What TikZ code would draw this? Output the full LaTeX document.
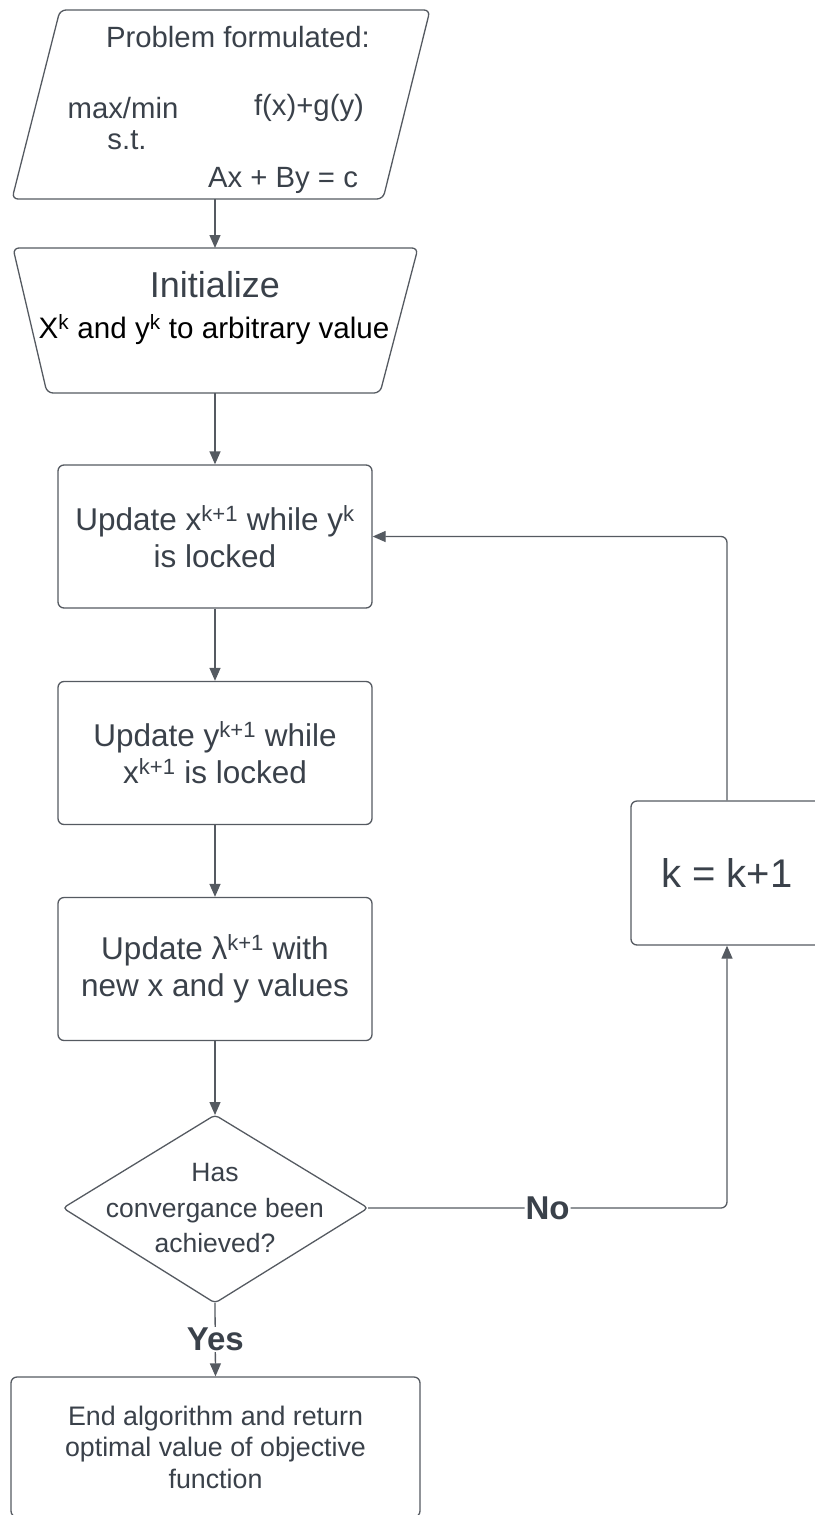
\documentclass[tikz,border=0pt]{standalone}
\usepackage{fontspec}
\setmainfont{Liberation Sans}
\usetikzlibrary{arrows.meta}
\definecolor{ln}{HTML}{555A61}
\definecolor{tx}{HTML}{3A414A}
\tikzset{
  shp/.style={draw=ln, line width=1.3pt, rounded corners=6pt},
  box/.style={shp, fill=white, minimum width=314pt, minimum height=143pt, inner sep=0pt, align=center, text=tx, font=\fontsize{31.5}{37}\selectfont},
  arr/.style={draw=ln, line width=1.3pt, -{Triangle[width=11pt,length=13pt]}},
  con/.style={draw=ln, line width=1.3pt},
  lbl/.style={text=tx, inner sep=0pt, align=center},
  bold/.style={lbl, fill=white, inner sep=1pt, font=\fontsize{33}{38}\selectfont\bfseries},
  ptx/.style={lbl, font=\fontsize{29.3}{34}\selectfont}
}
\begin{document}
\begin{tikzpicture}[x=1pt,y=-1pt]
\useasboundingbox (0,0) rectangle (814,1515);
% parallelogram
\coordinate (pB) at (215,199);
\draw[shp] (60,10) -- (430,10) -- (383,199) -- (12,199) -- cycle;
\node[ptx] (p1) at (238,37) {Problem formulated:};
\node[ptx] (p2) at (123,108) {max/min};
\node[ptx] (p3) at (309,108) {f(x)+g(y)};
\node[ptx] (p4) at (127,140) {s.t.};
\node[ptx] (p5) at (283,180) {Ax + By = c};
% trapezoid
\coordinate (tT) at (215,248);
\coordinate (tB) at (215,393);
\draw[shp] (13,248) -- (418,248) -- (380,393) -- (47,393) -- cycle;
\node[lbl, font=\fontsize{36}{42}\selectfont] (t1) at (215,285) {Initialize};
\node[lbl, text=black, font=\fontsize{29.6}{36}\selectfont] (t2) at (214,330) {X\textsuperscript{k} and y\textsuperscript{k} to arbitrary value};
% boxes
\node[box] (b1) at (215,536.5) {Update x\textsuperscript{k+1} while y\textsuperscript{k}\\is locked};
\node[box] (b2) at (215,753) {Update y\textsuperscript{k+1} while\\x\textsuperscript{k+1} is locked};
\node[box] (b3) at (215,969) {Update λ\textsuperscript{k+1} with\\new x and y values};
\node[box, minimum width=192pt, minimum height=144pt, font=\fontsize{40}{46}\selectfont] (kb) at (727,873) {k = k+1};
% diamond
\coordinate (dT) at (215,1115);
\coordinate (dR) at (368,1208);
\coordinate (dB) at (215,1303);
\coordinate (dL) at (63,1208);
\draw[shp, rounded corners=4pt] (dT) -- (dR) -- (dB) -- (dL) -- cycle;
\node[lbl, font=\fontsize{26.5}{35.5}\selectfont] (dt) at (215,1208) {Has\\convergance been\\achieved?};
% end box
\node[box, minimum width=409pt, minimum height=140pt, font=\fontsize{26.8}{31.5}\selectfont] (eb) at (215.5,1447) {End algorithm and return\\optimal value of objective\\function};
% connectors
\draw[arr] (pB) -- (tT);
\draw[arr] (tB) -- (b1.north);
\draw[arr] (b1.south) -- (b2.north);
\draw[arr] (b2.south) -- (b3.north);
\draw[arr] (b3.south) -- (dT);
\draw[arr] (dB) -- node[bold] (yes) {Yes} (eb.north);
\draw[arr, rounded corners=6pt] (dR) -| node[bold, pos=0.25] (no) {No} (kb.south);
\draw[arr, rounded corners=6pt] (kb.north) |- (b1.east);
\end{tikzpicture}
\end{document}
